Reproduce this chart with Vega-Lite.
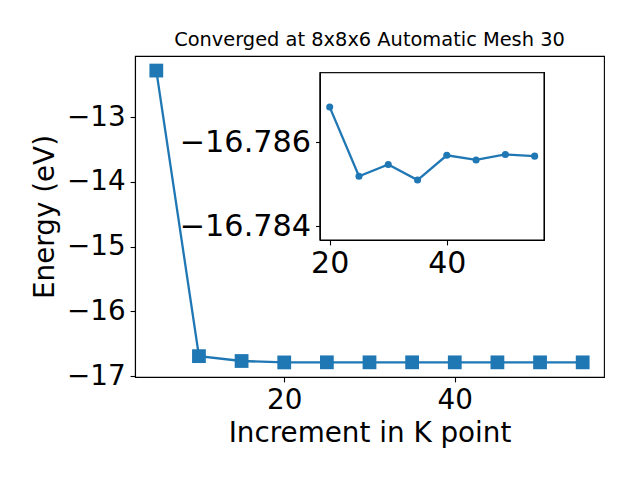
{
  "$schema": "https://vega.github.io/schema/vega-lite/v6.json",
  "autosize": {"type": "none"},
  "width": 469,
  "height": 321,
  "padding": {"left": 135, "top": 56, "right": 36, "bottom": 103},
  "background": "white",
  "config": {
    "font": "DejaVu Sans",
    "view": {"stroke": "black", "strokeWidth": 1.1},
    "axis": {
      "grid": false,
      "domainColor": "black",
      "domainWidth": 1.1,
      "tickColor": "black",
      "tickWidth": 1.1,
      "tickSize": 4.9,
      "labelPadding": 4.9,
      "labelColor": "black",
      "titleColor": "black",
      "labelFont": "DejaVu Sans",
      "titleFont": "DejaVu Sans",
      "titleFontWeight": "normal"
    }
  },
  "title": {
    "text": "Converged at 8x8x6 Automatic Mesh 30",
    "font": "DejaVu Sans",
    "fontSize": 19.4,
    "fontWeight": "normal",
    "color": "black",
    "offset": 6
  },
  "data": {
    "values": [
      {"k": 5, "energy": -12.28},
      {"k": 10, "energy": -16.69},
      {"k": 15, "energy": -16.765},
      {"k": 20, "energy": -16.78684},
      {"k": 25, "energy": -16.78519},
      {"k": 30, "energy": -16.78547},
      {"k": 35, "energy": -16.7851},
      {"k": 40, "energy": -16.78569},
      {"k": 45, "energy": -16.78558},
      {"k": 50, "energy": -16.78571},
      {"k": 55, "energy": -16.78567}
    ]
  },
  "layer": [
    {
      "encoding": {
        "x": {
          "field": "k", "type": "quantitative",
          "scale": {"domain": [2.5, 57.5], "nice": false, "zero": false},
          "axis": {"values": [20, 40], "title": "Increment in K point", "labelFontSize": 27.8, "titleFontSize": 27.8, "titlePadding": 5, "orient": "bottom"}
        },
        "y": {
          "field": "energy", "type": "quantitative",
          "scale": {"domain": [-17.012, -12.055], "nice": false, "zero": false},
          "axis": {"values": [-17, -16, -15, -14, -13], "format": "d", "title": "Energy (eV)", "labelFontSize": 27.8, "titleFontSize": 27.8, "titlePadding": 7, "orient": "left"}
        }
      },
      "layer": [
        {"mark": {"type": "line", "color": "#1f77b4", "strokeWidth": 2.3}},
        {"mark": {"type": "point", "shape": "square", "filled": true, "opacity": 1, "color": "#1f77b4", "size": 190}}
      ]
    },
    {
      "transform": [{"filter": "datum.k >= 20"}],
      "encoding": {
        "x": {
          "field": "k", "type": "quantitative",
          "scale": {"domain": [18.41, 56.6], "range": [185.4, 409], "nice": false, "zero": false},
          "axis": {"values": [20, 40], "title": null, "labelFontSize": 30, "labelPadding": 4, "orient": "bottom", "offset": -137, "domain": false}
        },
        "y": {
          "field": "energy", "type": "quantitative",
          "scale": {"domain": [-16.78766, -16.78367], "range": [16.7, 184], "nice": false, "zero": false},
          "axis": {"values": [-16.786, -16.784], "format": ".3f", "title": null, "labelFontSize": 30.3, "orient": "left", "offset": -185.4, "domain": false}
        }
      },
      "layer": [
        {
          "mark": {"type": "rect", "fill": "white", "stroke": "black", "strokeWidth": 1.1},
          "encoding": {
            "x": {"datum": 18.41, "type": "quantitative"},
            "x2": {"datum": 56.6},
            "y": {"datum": -16.78766, "type": "quantitative"},
            "y2": {"datum": -16.78367}
          }
        },
        {"mark": {"type": "line", "color": "#1f77b4", "strokeWidth": 2.3}},
        {"mark": {"type": "point", "shape": "circle", "filled": true, "opacity": 1, "color": "#1f77b4", "size": 50}}
      ]
    }
  ],
  "resolve": {
    "scale": {"x": "independent", "y": "independent"},
    "axis": {"x": "independent", "y": "independent"}
  }
}
